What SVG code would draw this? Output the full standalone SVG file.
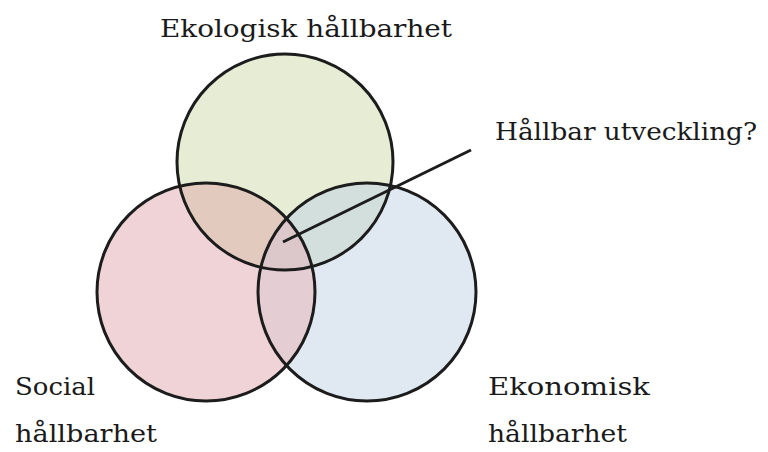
<svg xmlns="http://www.w3.org/2000/svg" width="768" height="452" viewBox="0 0 768 452">
<defs>
<clipPath id="cg"><circle cx="285" cy="162" r="108"/></clipPath>
<clipPath id="cr"><circle cx="206" cy="292" r="109"/></clipPath>
<clipPath id="cb"><circle cx="367" cy="292" r="109"/></clipPath>
</defs>
<style>
.s{fill:none;stroke:#1c1c1c;stroke-width:3}
.t{font-family:"DejaVu Serif","Liberation Serif",serif;font-size:25px;fill:#1a1a1a}
</style>
<rect width="768" height="452" fill="#ffffff"/>
<g id="ekologisk"><circle cx="285" cy="162" r="108" fill="#e6edd4"/></g>
<g id="social"><circle cx="206" cy="292" r="109" fill="#f0d3d6"/></g>
<g id="ekonomisk"><circle cx="367" cy="292" r="109" fill="#e0e8f1"/></g>
<g id="overlaps">
<g clip-path="url(#cg)"><circle cx="206" cy="292" r="109" fill="#e2cabe"/><circle cx="367" cy="292" r="109" fill="#d3dfdc"/></g>
<g clip-path="url(#cr)"><circle cx="367" cy="292" r="109" fill="#e4cdd3"/></g>
<g clip-path="url(#cg)"><g clip-path="url(#cr)"><circle cx="367" cy="292" r="109" fill="#dcc8cb"/></g></g>
</g>
<g id="outlines">
<circle class="s" cx="285" cy="162" r="108"/>
<circle class="s" cx="206" cy="292" r="109"/>
<circle class="s" cx="367" cy="292" r="109"/>
</g>
<g id="connectors"><line x1="283" y1="242" x2="471" y2="150" stroke="#1c1c1c" stroke-width="3"/></g>
<g id="labels">
<text class="t" x="160" y="37" textLength="292" lengthAdjust="spacingAndGlyphs">Ekologisk hållbarhet</text>
<text class="t" x="495" y="140" textLength="262" lengthAdjust="spacingAndGlyphs">Hållbar utveckling?</text>
<text class="t" x="15" y="395" textLength="80" lengthAdjust="spacingAndGlyphs">Social</text>
<text class="t" x="15" y="442" textLength="142" lengthAdjust="spacingAndGlyphs">hållbarhet</text>
<text class="t" x="488" y="395" textLength="162" lengthAdjust="spacingAndGlyphs">Ekonomisk</text>
<text class="t" x="488" y="442" textLength="139" lengthAdjust="spacingAndGlyphs">hållbarhet</text>
</g>
</svg>
